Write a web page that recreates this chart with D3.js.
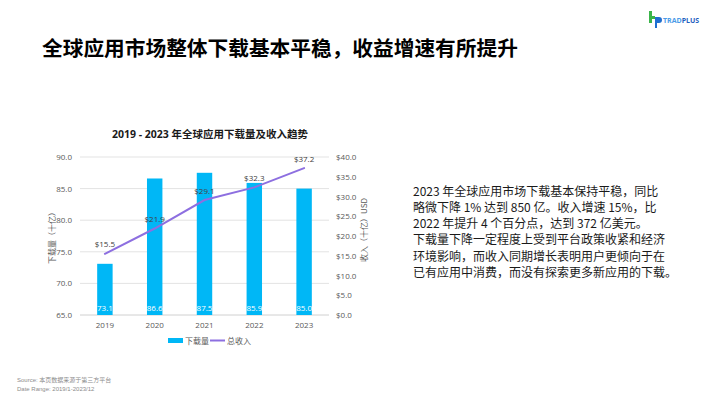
<!DOCTYPE html>
<html><head><meta charset="utf-8">
<script src="https://cdn.jsdelivr.net/npm/d3@7"></script>
<style>
html,body{margin:0;padding:0;background:#fff;}
svg{display:block;font-family:"Open Sans","Noto Sans CJK SC",sans-serif;}
</style></head>
<body><svg id="c" width="710" height="399"></svg>
<script>
const years = ["2019","2020","2021","2022","2023"];
const downloads = [73.1, 86.6, 87.5, 85.9, 85.0];
const revenue = [15.5, 21.9, 29.1, 32.3, 37.2];
const leftTicks = [65, 70, 75, 80, 85, 90];
const rightTicks = [0, 5, 10, 15, 20, 25, 30, 35, 40];
const pageTitle = "全球应用市场整体下载基本平稳，收益增速有所提升";
const chartTitle = "2019 - 2023 年全球应用下载量及收入趋势";
const leftAxisTitle = "下载量（十亿）";
const rightAxisTitle = "收入（十亿）USD";
const legendNames = ["下载量", "总收入"];
const paragraph = [
  "2023 年全球应用市场下载基本保持平稳，同比",
  "略微下降 1% 达到 850 亿。收入增速 15%，比",
  "2022 年提升 4 个百分点，达到 372 亿美元。",
  "下载量下降一定程度上受到平台政策收紧和经济",
  "环境影响，而收入同期增长表明用户更倾向于在",
  "已有应用中消费，而没有探索更多新应用的下载。"
];
const footer = ["Source: 本页数据来源于第三方平台", "Date Range:  2019/1-2023/12"];

const svg = d3.select("#c");
svg.append("rect").attr("width",710).attr("height",399).attr("fill","#fff");
const cjk = '"Noto Sans CJK SC",sans-serif';

// Page title
svg.append("text").attr("x",42).attr("y",47).attr("dominant-baseline","central")
  .style("font-family",cjk).style("font-weight","bold").style("font-size","20.7px")
  .attr("fill","#000").text(pageTitle);

// Logo
const logo = svg.append("g");
logo.append("rect").attr("x",649).attr("y",11).attr("width",3).attr("height",12).attr("fill","#3bb54a");
logo.append("rect").attr("x",649).attr("y",16).attr("width",6).attr("height",3).attr("fill","#3bb54a");
logo.append("path").attr("d","M655,17 h4 a3,3 0 0 1 0,6 h-2 v5 h-2 z").attr("fill","#1f6fd1");
logo.append("text").attr("x",663).attr("y",20).attr("dominant-baseline","central")
  .style("font-size","7px").style("font-weight","bold")
  .call(t=>{t.append("tspan").attr("fill","#4a9be8").text("TRAD");t.append("tspan").attr("fill","#1f5fbf").text("PLUS");});

// Scales
const x = d3.scaleBand().domain(years).range([80,329]).padding(0);
const yL = d3.scaleLinear().domain([65,90]).range([315,157]);
const yR = d3.scaleLinear().domain([0,40]).range([315,157]);
const bw = x.bandwidth()*0.31;
const cx = d => x(d)+x.bandwidth()/2;

// Chart title
svg.append("text").attr("x",210).attr("y",134).attr("text-anchor","middle").attr("dominant-baseline","central")
  .style("font-weight","bold").style("font-size","10.5px").attr("fill","#1a1a1a").text(chartTitle);

// Gridlines
svg.append("g").selectAll("line").data(leftTicks).join("line")
  .attr("x1",80).attr("x2",329).attr("y1",d=>yL(d)).attr("y2",d=>yL(d))
  .attr("stroke",(d)=>d===65?"#d0d0d0":"#e3e3e3").attr("stroke-width",1);

// Left axis
const axL = svg.append("g").attr("transform","translate(80,0)")
  .call(d3.axisLeft(yL).tickValues(leftTicks).tickFormat(d3.format(".1f")).tickSize(0).tickPadding(8));
axL.select(".domain").remove();
axL.selectAll("text").style("font-size","8px").attr("fill","#595959").style("font-family",'"Open Sans",sans-serif');

// Right axis
const axR = svg.append("g").attr("transform","translate(329,0)")
  .call(d3.axisRight(yR).tickValues(rightTicks).tickFormat(d=>"$"+d3.format(".1f")(d)).tickSize(0).tickPadding(7));
axR.select(".domain").remove();
axR.selectAll("text").style("font-size","8px").attr("fill","#595959").style("font-family",'"Open Sans",sans-serif');

// X axis
const axX = svg.append("g").attr("transform","translate(0,315)")
  .call(d3.axisBottom(x).tickSize(0).tickPadding(7));
axX.select(".domain").remove();
axX.selectAll("text").style("font-size","8px").attr("fill","#595959").style("font-family",'"Open Sans",sans-serif');

// Axis titles
svg.append("text").attr("transform","translate(51,236) rotate(-90)").attr("text-anchor","middle")
  .attr("dominant-baseline","central").style("font-family",cjk).style("font-size","8px").attr("fill","#595959").text(leftAxisTitle);
svg.append("text").attr("transform","translate(363,230) rotate(-90)").attr("text-anchor","middle")
  .attr("dominant-baseline","central").style("font-family",cjk).style("font-size","8px").attr("fill","#595959").text(rightAxisTitle);

// Bars
const barColor = "#00b7f6", lineColor = "#8d6fe0";
svg.append("g").selectAll("rect").data(downloads).join("rect")
  .attr("x",(d,i)=>cx(years[i])-bw/2).attr("width",bw)
  .attr("y",d=>yL(d)).attr("height",d=>yL(65)-yL(d)).attr("fill",barColor);
svg.append("g").selectAll("text").data(downloads).join("text")
  .attr("x",(d,i)=>cx(years[i])).attr("y",307).attr("text-anchor","middle").attr("dominant-baseline","central")
  .style("font-size","8px").attr("fill","#fff").text(d=>d3.format(".1f")(d));

// Line
const line = d3.line().x((d,i)=>cx(years[i])).y(d=>yR(d));
svg.append("path").datum(revenue).attr("d",line).attr("fill","none")
  .attr("stroke",lineColor).attr("stroke-width",2).attr("stroke-linecap","round");
svg.append("g").selectAll("text").data(revenue).join("text")
  .attr("x",(d,i)=>cx(years[i])).attr("y",d=>yR(d)-10).attr("text-anchor","middle").attr("dominant-baseline","central")
  .style("font-size","8px").attr("fill","#404040").text(d=>"$"+d3.format(".1f")(d));

// Legend
svg.append("rect").attr("x",168).attr("y",338).attr("width",15).attr("height",5).attr("fill",barColor);
svg.append("text").attr("x",185).attr("y",340.5).attr("dominant-baseline","central").style("font-family",cjk)
  .style("font-size","8px").attr("fill","#595959").text(legendNames[0]);
svg.append("line").attr("x1",210).attr("x2",225).attr("y1",340.5).attr("y2",340.5).attr("stroke",lineColor).attr("stroke-width",2);
svg.append("text").attr("x",227).attr("y",340.5).attr("dominant-baseline","central").style("font-family",cjk)
  .style("font-size","8px").attr("fill","#595959").text(legendNames[1]);

// Paragraph
svg.append("g").selectAll("text").data(paragraph).join("text")
  .attr("x",413).attr("y",(d,i)=>190+i*16.3).attr("dominant-baseline","central")
  .style("font-family",cjk).style("font-size","12px").attr("fill","#1a1a1a").text(d=>d);

// Footer
svg.append("g").selectAll("text").data(footer).join("text")
  .attr("x",17).attr("y",(d,i)=>380+i*8.5).attr("dominant-baseline","central")
  .style("font-family",'"Liberation Sans","Noto Sans CJK SC",sans-serif').style("font-size","6px").attr("fill","#8c8c8c").text(d=>d);
</script></body></html>
